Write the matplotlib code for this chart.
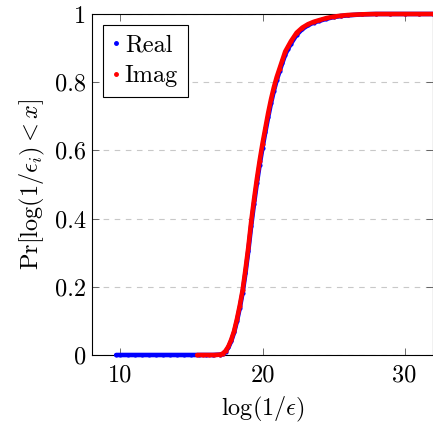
import matplotlib
matplotlib.use("Agg")
import matplotlib.pyplot as plt
from matplotlib.lines import Line2D

plt.rcParams['font.family'] = 'serif'
plt.rcParams['font.serif'] = ['cmr10']
plt.rcParams['mathtext.fontset'] = 'cm'
plt.rcParams['axes.unicode_minus'] = False

# CDF of log(1/eps)
real_x = [9.7, 10.0, 10.5, 11.0, 11.5, 12.0, 12.5, 13.0, 13.5, 14.0, 14.5, 15.0,
          15.5, 16.0, 16.5, 17.0, 17.2, 17.4, 17.6, 17.8, 18.0, 18.2, 18.4, 18.6,
          18.8, 19.0, 19.2, 19.4, 19.6, 19.8, 20.0, 20.2, 20.4, 20.6, 20.8, 21.0,
          21.2, 21.4, 21.6, 21.8, 22.0, 22.4, 22.8, 23.2, 23.6, 24.0, 24.5, 25.0,
          25.5, 26.0, 27.0, 28.0, 29.0, 30.0, 31.0, 32.0]
real_y = [0, 0, 0, 0, 0, 0, 0, 0, 0, 0, 0, 0,
          0, 0, 0, 0.001, 0.003, 0.010, 0.022, 0.041, 0.066, 0.099, 0.138, 0.183,
          0.240, 0.305, 0.378, 0.443, 0.503, 0.558, 0.608, 0.654, 0.698, 0.739, 0.775, 0.806,
          0.832, 0.857, 0.881, 0.898, 0.913, 0.939, 0.956, 0.967, 0.975, 0.980, 0.986, 0.991,
          0.994, 0.996, 0.999, 1.0, 1.0, 1.0, 1.0, 1.0]

imag_x = [15.4, 15.8, 16.2, 16.6, 17.0, 17.2, 17.4, 17.6, 17.8, 18.0, 18.2, 18.4,
          18.6, 18.8, 19.0, 19.2, 19.4, 19.6, 19.8, 20.0, 20.2, 20.4, 20.6, 20.8,
          21.0, 21.2, 21.4, 21.6, 21.8, 22.0, 22.4, 22.8, 23.2, 23.6, 24.0, 24.5,
          25.0, 25.5, 26.0, 27.0, 28.0, 29.0, 30.0, 31.0, 32.0]
imag_y = [0, 0, 0, 0, 0.001, 0.004, 0.012, 0.025, 0.045, 0.070, 0.105, 0.145,
          0.190, 0.250, 0.315, 0.390, 0.455, 0.515, 0.570, 0.620, 0.665, 0.710, 0.750, 0.785,
          0.815, 0.840, 0.865, 0.890, 0.905, 0.920, 0.945, 0.960, 0.970, 0.977, 0.982, 0.988,
          0.992, 0.995, 0.997, 0.999, 1.0, 1.0, 1.0, 1.0, 1.0]

xticks = [10, 20, 30]
yticks = [0, 0.2, 0.4, 0.6, 0.8, 1]
ytick_labels = ['0', '0.2', '0.4', '0.6', '0.8', '1']

fs = 17.5

fig = plt.figure(figsize=(4.33, 4.29), dpi=100)
ax = fig.add_axes([92/433, 1 - 355/429, 341/433, 341/429])

ax.plot(real_x, real_y, color='blue', lw=3.3, marker='o', ms=3.0, mec='none',
        solid_capstyle='round', clip_on=False, zorder=3)
ax.plot(imag_x, imag_y, color='red', lw=3.3, marker='o', ms=3.0, mec='none',
        solid_capstyle='round', clip_on=False, zorder=4)

ax.set_xlim(8, 32)
ax.set_ylim(0, 1)
ax.set_xticks(xticks)
ax.set_xticklabels([str(t) for t in xticks])
ax.set_yticks(yticks)
ax.set_yticklabels(ytick_labels)
ax.tick_params(direction='in', length=5, width=0.6, top=True, right=True,
               labelsize=fs, color='#555555')
ax.tick_params(axis='y', pad=4)
ax.tick_params(axis='x', pad=7)
ax.yaxis.grid(True, color='#c8c8c8', linestyle=(0, (5, 5)), lw=0.8)
ax.set_axisbelow(True)
for s in ax.spines.values():
    s.set_linewidth(0.8)

ax.set_xlabel(r'$\log(1/\epsilon)$', fontsize=fs, labelpad=6)
ax.set_ylabel(r'$\Pr[\log(1/\epsilon_i) < x]$', fontsize=fs, labelpad=6)

handles = [Line2D([], [], color='blue', marker='o', ls='none', ms=2.5),
           Line2D([], [], color='red', marker='o', ls='none', ms=2.5)]
leg = ax.legend(handles, ['Real', 'Imag'], loc='upper left', fontsize=fs,
                frameon=True, fancybox=False, framealpha=1, edgecolor='black',
                handlelength=0.3, handletextpad=0.2, borderpad=0.4,
                labelspacing=0.35, borderaxespad=0.45)
leg.get_frame().set_linewidth(0.8)

fig.savefig('out.png', dpi=100)
